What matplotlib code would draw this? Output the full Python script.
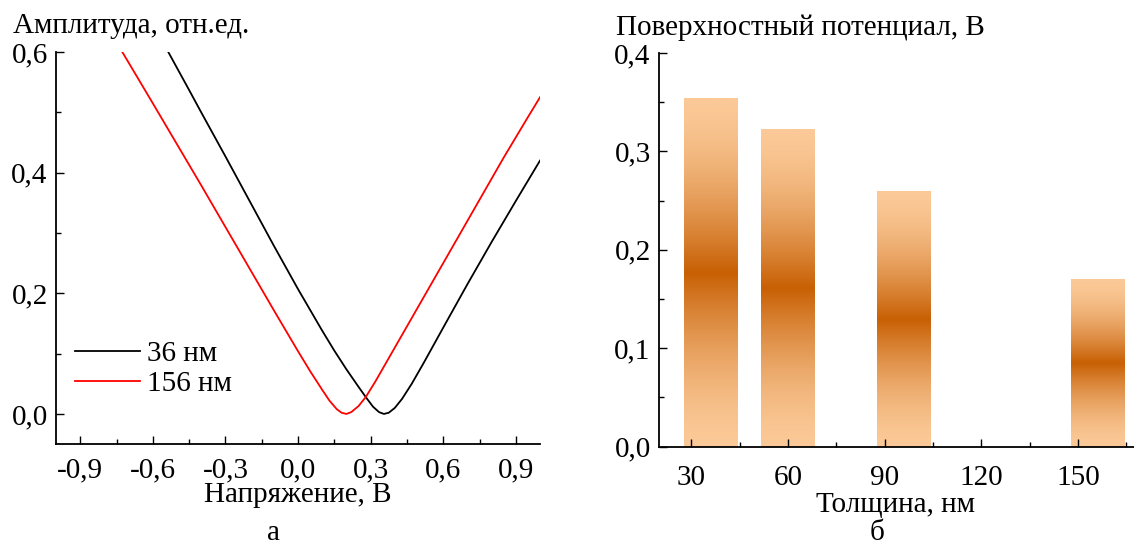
import numpy as np
import matplotlib
matplotlib.use("Agg")
import matplotlib.pyplot as plt
from matplotlib.ticker import FixedLocator, MultipleLocator
from matplotlib.colors import LinearSegmentedColormap

plt.rcParams['font.family'] = ['Liberation Serif', 'DejaVu Serif']
plt.rcParams['font.size'] = 21

# ---- data: panel a (amplitude vs voltage) ----
volt_36 = [-0.536, -0.45, -0.4, -0.3, -0.2, -0.1, 0.0, 0.1, 0.15, 0.2, 0.25, 0.28,
           0.31, 0.335, 0.355, 0.375, 0.4, 0.43, 0.47, 0.52, 0.6, 0.7, 0.8, 0.9, 1.0]
amp_36 = [0.6, 0.537, 0.50, 0.427, 0.353, 0.279, 0.207, 0.138, 0.105, 0.074, 0.045, 0.028,
          0.012, 0.003, 0.0, 0.002, 0.01, 0.025, 0.05, 0.085, 0.143, 0.215, 0.285, 0.353, 0.42]
volt_156 = [-0.726, -0.6, -0.5, -0.4, -0.3, -0.2, -0.1, 0.0, 0.05, 0.1, 0.13, 0.16,
            0.18, 0.2, 0.22, 0.25, 0.28, 0.32, 0.37, 0.45, 0.55, 0.65, 0.75, 0.85, 0.95, 1.0]
amp_156 = [0.6, 0.515, 0.447, 0.379, 0.31, 0.241, 0.172, 0.104, 0.071, 0.04, 0.022, 0.008,
           0.002, 0.0, 0.003, 0.013, 0.028, 0.054, 0.089, 0.145, 0.215, 0.285, 0.355, 0.425,
           0.492, 0.525]
labels_a = ['36 нм', '156 нм']
xticks_a = [-0.9, -0.6, -0.3, 0.0, 0.3, 0.6, 0.9]
xticklabels_a = ['-0,9', '-0,6', '-0,3', '0,0', '0,3', '0,6', '0,9']
yticks_a = [0.0, 0.2, 0.4, 0.6]
yticklabels_a = ['0,0', '0,2', '0,4', '0,6']

# ---- data: panel b (surface potential vs thickness) ----
thickness = [36, 60, 96, 156]
potential = [0.354, 0.323, 0.260, 0.170]
xticks_b = [30, 60, 90, 120, 150]
xticklabels_b = ['30', '60', '90', '120', '150']
yticks_b = [0.0, 0.1, 0.2, 0.3, 0.4]
yticklabels_b = ['0,0', '0,1', '0,2', '0,3', '0,4']

W, H = 1134, 545
fig = plt.figure(figsize=(W / 100, H / 100), dpi=100)

def style(ax):
    for s in ['top', 'right']:
        ax.spines[s].set_visible(False)
    for s in ['left', 'bottom']:
        ax.spines[s].set_linewidth(1.3)
    ax.tick_params(which='both', direction='in', width=1.0, labelsize=21)
    ax.tick_params(which='major', length=5.5)
    ax.tick_params(which='minor', length=3.5)
    ax.tick_params(axis='y', pad=6)
    ax.tick_params(axis='x', pad=10)

# panel a
axa = fig.add_axes([56 / W, 1 - 443.5 / H, 484 / W, (443.5 - 52) / H])
axa.plot(volt_36, amp_36, color='black', lw=1.3, label=labels_a[0])
axa.plot(volt_156, amp_156, color='#ff0000', lw=1.3, label=labels_a[1])
axa.set_xlim(-1.0, 1.0)
axa.set_ylim(-0.049, 0.6)
axa.set_xticks(xticks_a, xticklabels_a)
axa.set_yticks(yticks_a, yticklabels_a)
axa.xaxis.set_minor_locator(FixedLocator([-0.75, -0.45, -0.15, 0.15, 0.45, 0.75]))
axa.yaxis.set_minor_locator(FixedLocator([0.1, 0.3, 0.5]))
style(axa)
axa.legend(loc='upper left', bbox_to_anchor=(0.04, 0.262), frameon=False,
           fontsize=21, handlelength=2.2, handletextpad=0.25, labelspacing=0.12,
           borderaxespad=0, borderpad=0)

# panel b
axb = fig.add_axes([659 / W, 1 - 446.7 / H, 477 / W, (446.7 - 53) / H])
bars = axb.bar(thickness, potential, width=16.5, color='none', edgecolor='none')
light = np.array([251, 201, 151]) / 255
dark = np.array([200, 96, 4]) / 255
cmap = LinearSegmentedColormap.from_list('bar', [light, dark])
u = np.linspace(0, 1, 256)
t = (1 - np.abs(2 * u - 1)) ** 1.6
grad = t[:, None]
for p in bars.patches:
    x0, y0 = p.get_x(), p.get_y()
    w, h = p.get_width(), p.get_height()
    im = axb.imshow(grad, cmap=cmap, vmin=0, vmax=1, aspect='auto',
                    extent=[x0, x0 + w, y0, y0 + h], origin='lower', zorder=1)
    im.set_clip_path(p)
axb.set_xlim(20, 168)
axb.set_ylim(0, 0.4)
axb.set_xticks(xticks_b, xticklabels_b)
axb.set_yticks(yticks_b, yticklabels_b)
axb.xaxis.set_minor_locator(FixedLocator([45, 75, 105, 135, 165]))
axb.yaxis.set_minor_locator(MultipleLocator(0.05))
style(axb)
axb.tick_params(axis='x', pad=13)

# titles and labels
fig.text(13 / W, 1 - 33 / H, 'Амплитуда, отн.ед.', fontsize=21, va='baseline', ha='left')
fig.text(616 / W, 1 - 35 / H, 'Поверхностный потенциал, В', fontsize=21, va='baseline', ha='left')
fig.text(298 / W, 1 - 502 / H, 'Напряжение, В', fontsize=21, va='baseline', ha='center')
fig.text(896 / W, 1 - 512 / H, 'Толщина, нм', fontsize=21, va='baseline', ha='center')
fig.text(273 / W, 1 - 540 / H, 'а', fontsize=21, va='baseline', ha='center')
fig.text(877 / W, 1 - 540 / H, 'б', fontsize=21, va='baseline', ha='center')

fig.savefig('out.png', dpi=100)
